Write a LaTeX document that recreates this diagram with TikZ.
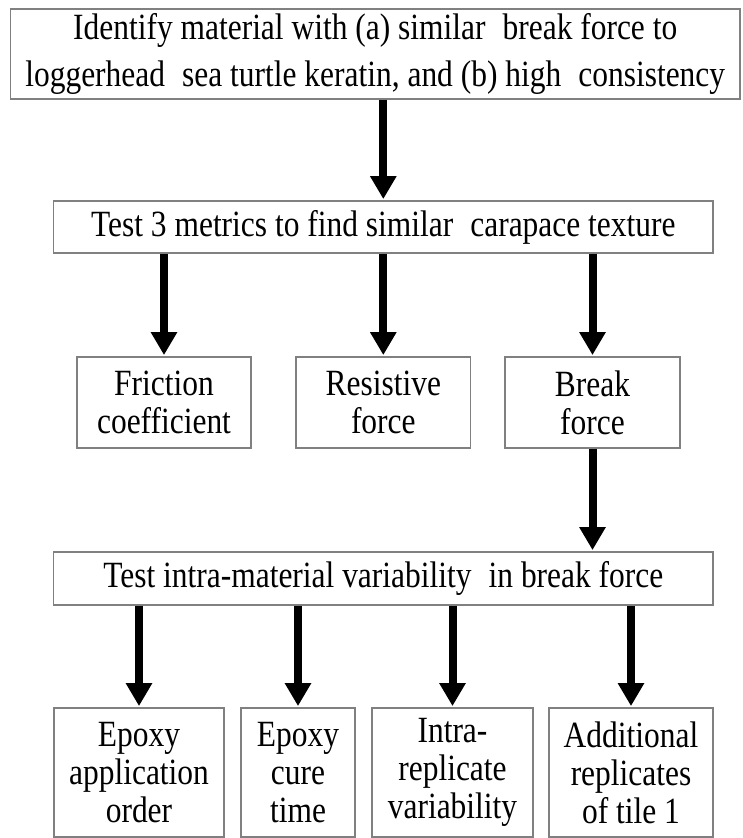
\documentclass[tikz,border=0pt]{standalone}
\usepackage{fontspec}
\setmainfont{Liberation Serif}[FakeStretch=0.85]
\usetikzlibrary{arrows.meta}
\definecolor{boxgray}{RGB}{128,128,128}
\tikzset{
  box/.style={draw=boxgray, line width=1.8pt, fill=white, inner sep=0pt, align=center,
    font=\fontsize{37}{38}\selectfont},
  arr/.style={line width=8pt, -{Triangle[width=25pt,length=23pt]}, shorten >=1pt}
}
\begin{document}
\begin{tikzpicture}[x=1pt,y=-1pt]
\useasboundingbox (0,0) rectangle (743,838);
\node[box, minimum width=729.6pt, minimum height=90pt, font=\fontsize{37}{47}\selectfont] (top) at (375.2,54)
  {Identify material with (a) similar\hspace{0.25em} break force to\\loggerhead\hspace{0.25em} sea turtle keratin, and (b) high\hspace{0.25em} consistency};
\node[box, minimum width=659.5pt, minimum height=52pt] (mid) at (383.3,227)
  {Test 3 metrics to find similar\hspace{0.25em} carapace texture};
\node[box, minimum width=174pt, minimum height=91pt] (f1) at (164,402.5) {Friction\\coefficient};
\node[box, minimum width=174.5pt, minimum height=91pt] (f2) at (383.3,402.5) {Resistive\\force};
\node[box, minimum width=175pt, minimum height=91pt] (f3) at (592.5,402.5) {Break\\force};
\node[box, minimum width=659.5pt, minimum height=53pt] (var) at (383.3,578.5)
  {Test intra-material variability\hspace{0.25em} in break force};
\node[box, minimum width=170.5pt, minimum height=129pt] (b1) at (139,772.5) {Epoxy\\application\\order};
\node[box, minimum width=114pt, minimum height=129pt] (b2) at (298,772.5) {Epoxy\\cure\\time};
\node[box, minimum width=161pt, minimum height=129pt] (b3) at (452.5,772.5) {Intra-\\replicate\\variability};
\node[box, minimum width=164pt, minimum height=129pt] (b4) at (631,772.5) {Additional\\replicates\\of tile 1};
\draw[arr] (top.south -| mid) -- (mid.north);
\draw[arr] (mid.south -| f1) -- (f1.north);
\draw[arr] (mid.south -| f2) -- (f2.north);
\draw[arr] (mid.south -| f3) -- (f3.north);
\draw[arr] (f3.south) -- (var.north -| f3);
\draw[arr] (var.south -| b1) -- (b1.north);
\draw[arr] (var.south -| b2) -- (b2.north);
\draw[arr] (var.south -| b3) -- (b3.north);
\draw[arr] (var.south -| b4) -- (b4.north);
\end{tikzpicture}
\end{document}
